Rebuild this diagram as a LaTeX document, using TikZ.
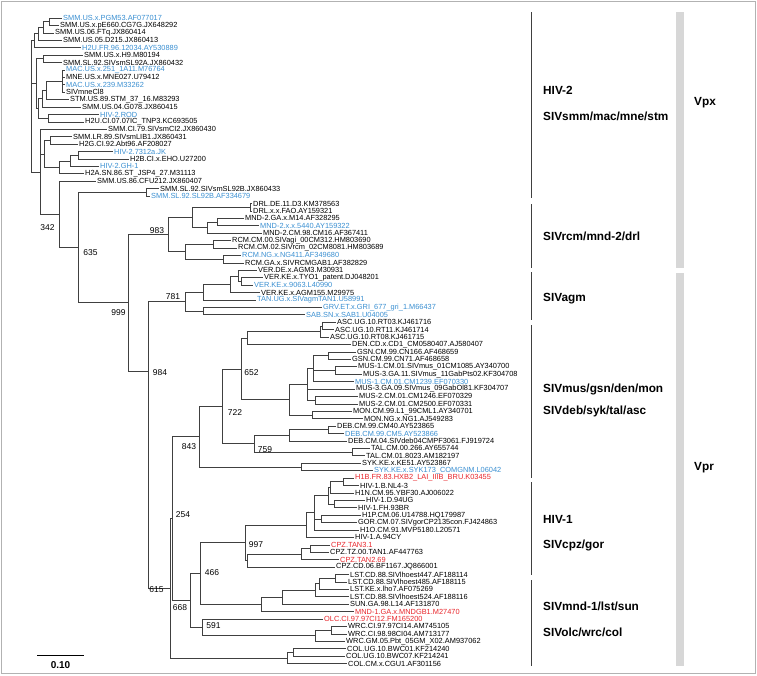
\documentclass[tikz,border=0pt]{standalone}
\usepackage{fontspec}
\setmainfont{Liberation Sans}
\usetikzlibrary{positioning, calc}
\definecolor{accblue}{RGB}{58,143,209}
\definecolor{accred}{RGB}{232,38,43}
\definecolor{bargray}{RGB}{215,215,215}
\tikzset{
  leaf/.style={anchor=west, inner sep=1pt, font=\fontsize{7.4}{8}\selectfont},
  br/.style={line width=0.65pt, black!75},
  boot/.style={font=\fontsize{8.5}{9}\selectfont, inner sep=0pt},
  grp/.style={anchor=west, font=\bfseries\fontsize{11.8}{13}\selectfont, inner sep=0pt},
  sep/.style={line width=0.8pt, black!75},
  gbar/.style={line width=8pt, bargray},
}
\newcommand{\clade}[2]{\foreach \c in {#2} {\draw[br] (#1) |- (\c);}}

\begin{document}
\begin{tikzpicture}[x=1pt,y=-1pt]
\useasboundingbox (0,0) rectangle (757,675);
\draw[gray!60] (1.5,1.5) rectangle (755.5,673.5);

% leaves: index / x / colour / name
\foreach \i/\lx/\lc/\lt in {
 1/62/accblue/SMM.US.x.PGM53.AF077017, 2/59/black/SMM.US.x.pE660.CG7G.JX648292,
 3/54/black/SMM.US.06.FTq.JX860414, 4/62/black/SMM.US.05.D215.JX860413,
 5/81/accblue/H2U.FR.96.12034.AY530889, 6/83/black/SMM.US.x.H9.M80194,
 7/62/black/SMM.SL.92.SIVsmSL92A.JX860432, 8/65/accblue/MAC.US.x.251\_1A11.M76764,
 9/65/black/MNE.US.x.MNE027.U79412, 10/65/accblue/MAC.US.x.239.M33262,
 11/65/black/SIVmneCl8, 12/69/black/STM.US.89.STM\_37\_16.M83293,
 13/81/black/SMM.US.04.G078.JX860415, 14/99/accblue/HIV-2.ROD,
 15/84/black/H2U.CI.07.07IC\_TNP3.KC693505, 16/107/black/SMM.CI.79.SIVsmCI2.JX860430,
 17/72/black/SMM.LR.89.SIVsmLIB1.JX860431, 18/78/black/H2G.CI.92.Abt96.AF208027,
 19/113/accblue/HIV-2.7312a.JK, 20/129/black/H2B.CI.x.EHO.U27200,
 21/99/accblue/HIV-2.GH-1, 22/84/black/H2A.SN.86.ST\_JSP4\_27.M31113,
 23/96/black/SMM.US.86.CFU212.JX860407, 24/159/black/SMM.SL.92.SIVsmSL92B.JX860433,
 25/150/accblue/SMM.SL.92.SL92B.AF334679, 26/252/black/DRL.DE.11.D3.KM378563,
 27/252/black/DRL.x.x.FAO.AY159321, 28/244/black/MND-2.GA.x.M14.AF328295,
 29/259/accblue/MND-2.x.x.5440.AY159322, 30/262/black/MND-2.CM.98.CM16.AF367411,
 31/231/black/RCM.CM.00.SIVagi\_00CM312.HM803690, 32/237/black/RCM.CM.02.SIVrcm\_02CM8081.HM803689,
 33/241/accblue/RCM.NG.x.NG411.AF349680, 34/244/black/RCM.GA.x.SIVRCMGAB1.AF382829,
 35/257/black/VER.DE.x.AGM3.M30931, 36/263/black/VER.KE.x.TYO1\_patent.DJ048201,
 37/253/accblue/VER.KE.x.9063.L40990, 38/260/black/VER.KE.x.AGM155.M29975,
 39/256/accblue/TAN.UG.x.SIVagmTAN1.U58991, 40/322/accblue/GRV.ET.x.GRI\_677\_gri\_1.M66437,
 41/305/accblue/SAB.SN.x.SAB1.U04005, 42/336/black/ASC.UG.10.RT03.KJ461716,
 43/334/black/ASC.UG.10.RT11.KJ461714, 44/329/black/ASC.UG.10.RT08.KJ461715,
 45/351/black/DEN.CD.x.CD1\_CM0580407.AJ580407, 46/356/black/GSN.CM.99.CN166.AF468659,
 47/351/black/GSN.CM.99.CN71.AF468658, 48/357/black/MUS-1.CM.01.SIVmus\_01CM1085.AY340700,
 49/362/black/MUS-3.GA.11.SIVmus\_11GabPts02.KF304708, 50/354/accblue/MUS-1.CM.01.CM1239.EF070330,
 51/355/black/MUS-3.GA.09.SIVmus\_09GabOl81.KF304707, 52/358/black/MUS-2.CM.01.CM1246.EF070329,
 53/358/black/MUS-2.CM.01.CM2500.EF070331, 54/352/black/MON.CM.99.L1\_99CML1.AY340701,
 55/363/black/MON.NG.x.NG1.AJ549283, 56/336/black/DEB.CM.99.CM40.AY523865,
 57/344/accblue/DEB.CM.99.CM5.AY523866, 58/347/black/DEB.CM.04.SIVdeb04CMPF3061.FJ919724,
 59/370/black/TAL.CM.00.266.AY655744, 60/365/black/TAL.CM.01.8023.AM182197,
 61/361/black/SYK.KE.x.KE51.AY523867, 62/373/accblue/SYK.KE.x.SYK173\_COMGNM.L06042,
 63/354/accred/H1B.FR.83.HXB2\_LAI\_IIIB\_BRU.K03455, 64/359/black/HIV-1.B.NL4-3,
 65/354/black/H1N.CM.95.YBF30.AJ006022, 66/365/black/HIV-1.D.94UG,
 67/357/black/HIV-1.FH.93BR, 68/361/black/H1P.CM.06.U14788.HQ179987,
 69/357/black/GOR.CM.07.SIVgorCP2135con.FJ424863, 70/359/black/H1O.CM.91.MVP5180.L20571,
 71/354/black/HIV-1.A.94CY, 72/330/accred/CPZ.TAN3.1,
 73/329/black/CPZ.TZ.00.TAN1.AF447763, 74/339/accred/CPZ.TAN2.69,
 75/335/black/CPZ.CD.06.BF1167.JQ866001, 76/349/black/LST.CD.88.SIVlhoest447.AF188114,
 77/347/black/LST.CD.88.SIVlhoest485.AF188115, 78/349/black/LST.KE.x.lho7.AF075269,
 79/349/black/LST.CD.88.SIVlhoest524.AF188116, 80/349/black/SUN.GA.98.L14.AF131870,
 81/354/accred/MND-1.GA.x.MNDGB1.M27470, 82/323/accred/OLC.CI.97.97CI12.FM165200,
 83/347/black/WRC.CI.97.97CI14.AM745105, 84/347/black/WRC.CI.98.98CI04.AM713177,
 85/345/black/WRC.GM.05.Pbt\_05GM\_X02.AM937062, 86/346/black/COL.UG.10.BWC01.KF214240,
 87/345/black/COL.UG.10.BWC07.KF214241, 88/347/black/COL.CM.x.CGU1.AF301156}
  \node[leaf, text=\lc] (l\i) at (\lx,{18+(\i-1)*7.42}) {\lt};

% inner nodes, Vpx part
\coordinate (a1) at (49,21.71);   \coordinate (a2) at (43,27.28);
\coordinate (a3) at (38,33.77);   \coordinate (a4) at (34,40.72);
\coordinate (a5) at (43,58.81);   \coordinate (a6) at (62,81.07);
\coordinate (a7) at (46,90.35);   \coordinate (a8) at (42,98.70);
\coordinate (a9) at (48,118.17);  \coordinate (a10) at (38,108.43);
\coordinate (a11) at (36,83.62);  \coordinate (b1) at (50,140.43);
\coordinate (b2) at (78,155.27);  \coordinate (b3) at (70,160.84);
\coordinate (b4) at (59,167.33);  \coordinate (b5) at (44,153.88);
\coordinate (b6) at (40,171.9);   \coordinate (root) at (31,106.3);
\coordinate (s24) at (146,192.37);
\coordinate (c342) at (59,214.4); \coordinate (c635) at (78,247.6);
\coordinate (d1) at (250,207.21); \coordinate (d2) at (217,222.05);
\coordinate (d3) at (207,227.62); \coordinate (d4) at (192,217.41);
\coordinate (r1) at (213,244.31); \coordinate (r2) at (223,259.15);
\coordinate (r3) at (185,251.73); \coordinate (c983) at (168,234.57);
\coordinate (c999) at (128,302.8);
% inner nodes, Vpr part
\coordinate (g1) at (241,281.41); \coordinate (g2) at (238,275.85);
\coordinate (g3) at (230,284.19); \coordinate (g4) at (203,292.08);
\coordinate (g5) at (203,311.09); \coordinate (c781) at (185,301.58);
\coordinate (c984) at (148,371);
\coordinate (e1) at (322,325.93); \coordinate (e2) at (320,331.5);
\coordinate (e3) at (247,338);
\coordinate (f1) at (328,355.61); \coordinate (f2) at (335,370.45);
\coordinate (f3) at (313,368.6);  \coordinate (f4) at (315,400.13);
\coordinate (f5) at (312,414.97); \coordinate (f6) at (307,384.4);
\coordinate (f7) at (289,399.7);  \coordinate (c652) at (241,368.9);
\coordinate (h1) at (328,429.81); \coordinate (h2) at (289,435.4);
\coordinate (h3) at (352,452.07); \coordinate (c759) at (254,443.7);
\coordinate (c722) at (222,406.3);\coordinate (h4) at (301,466.91);
\coordinate (c843) at (199,436.6);
\coordinate (i1) at (343,481.75); \coordinate (i2) at (330,487.3);
\coordinate (i3) at (334,504.0);  \coordinate (i4) at (328,495.7);
\coordinate (i5) at (321,518.85); \coordinate (i6) at (314,512.8);
\coordinate (i7) at (306,525.1);
\coordinate (j1) at (310,548.53); \coordinate (j2) at (301,554.1);
\coordinate (j3) at (247,560.6);  \coordinate (c997) at (245,542.8);
\coordinate (k1) at (335,578.21); \coordinate (k2) at (319,583.8);
\coordinate (k3) at (315,590.3);  \coordinate (k4) at (282,597.2);
\coordinate (k5) at (261,604.4);  \coordinate (c466) at (200,573.6);
\coordinate (m1) at (331,630.15); \coordinate (m2) at (315,635.7);
\coordinate (c591) at (202,627.4); \coordinate (c668) at (190,600.5);
\coordinate (n1) at (293,652.41); \coordinate (n2) at (287,657.98);
\coordinate (c254) at (172,518.6); \coordinate (c615) at (170,588.3);

% branches
\clade{a1}{l1.west,l2.west}  \clade{a2}{a1,l3.west}  \clade{a3}{a2,l4.west}
\clade{a4}{a3,l5.west}       \clade{a5}{l6.west,l7.west}
\clade{a6}{l8.west,l9.west,l10.west,l11.west}
\clade{a7}{a6,l12.west}      \clade{a8}{a7,l13.west}
\clade{a9}{l14.west,l15.west} \clade{a10}{a8,a9}   \clade{a11}{a5,a10}
\clade{b1}{l17.west,l18.west} \clade{b2}{l19.west,l20.west}
\clade{b3}{b2,l21.west}      \clade{b4}{b3,l22.west}  \clade{b5}{b1,b4}
\clade{b6}{l16.west,b5,c342} \clade{root}{a4,a11,b6}
\clade{s24}{l24.west,l25.west}
\clade{c342}{l23.west,c635}  \clade{c635}{s24,c999}
\clade{d1}{l26.west,l27.west} \clade{d2}{l28.west,l29.west}
\clade{d3}{d2,l30.west}      \clade{d4}{d1,d3}
\clade{r1}{l31.west,l32.west} \clade{r2}{l33.west,l34.west}
\clade{r3}{r1,r2}            \clade{c983}{d4,r3}
\clade{c999}{c983,c984}
\clade{g1}{l36.west,l37.west} \clade{g2}{l35.west,g1}
\clade{g3}{g2,l38.west}      \clade{g4}{g3,l39.west}
\clade{g5}{l40.west,l41.west} \clade{c781}{g4,g5}
\clade{c984}{c781,c615}
\clade{e1}{l42.west,l43.west} \clade{e2}{e1,l44.west} \clade{e3}{e2,l45.west}
\clade{f1}{l46.west,l47.west} \clade{f2}{l48.west,l49.west}
\clade{f3}{f1,f2,l50.west}   \clade{f4}{l52.west,l53.west}
\clade{f5}{l54.west,l55.west} \clade{f6}{f3,l51.west,f4}
\clade{f7}{f6,f5}            \clade{c652}{e3,f7}
\clade{h1}{l56.west,l57.west} \clade{h2}{h1,l58.west}
\clade{h3}{l59.west,l60.west} \clade{c759}{h2,h3}
\clade{c722}{c652,c759}      \clade{h4}{l61.west,l62.west}
\clade{c843}{c722,h4}
\clade{i1}{l63.west,l64.west} \clade{i2}{i1,l65.west}
\clade{i3}{l66.west,l67.west} \clade{i4}{i2,i3}
\clade{i5}{l68.west,l69.west} \clade{i6}{i4,i5,l70.west}
\clade{i7}{i6,l71.west}
\clade{j1}{l72.west,l73.west} \clade{j2}{j1,l74.west}
\clade{j3}{j2,l75.west}      \clade{c997}{i7,j3}
\clade{k1}{l76.west,l77.west} \clade{k2}{k1,l78.west}
\clade{k3}{k2,l79.west}      \clade{k4}{k3,l80.west}
\clade{k5}{k4,l81.west}      \clade{c466}{c997,k5}
\clade{m1}{l83.west,l84.west} \clade{m2}{m1,l85.west}
\clade{c591}{l82.west,m2}    \clade{c668}{c466,c591}
\clade{n1}{l86.west,l87.west} \clade{n2}{n1,l88.west}
\clade{c254}{c843,c668}      \clade{c615}{c254,n2}

% bootstrap values
\foreach \bx/\by/\bv in {47.5/228/342, 90.5/253/635, 157/231/983, 118.5/313/999,
  173/297/781, 160/373/984, 251.5/373/652, 235/413/722, 189/447/843, 265/450/759,
  183/515/254, 256/545/997, 212/573/466, 156.5/590/615, 180/608/668, 213.5/626/591}
  \node[boot] (bs\bv) at (\bx,\by) {\bv};

% scale bar
\coordinate (sbl) at (37,655);
\coordinate (sbr) at (84,655);
\draw[line width=0.8pt] (sbl) -- (sbr);
\node[font=\bfseries\fontsize{10}{12}\selectfont, below=3pt] (sbt) at ($(sbl)!.5!(sbr)$) {0.10};

% group bars and labels
\foreach \ya/\yb in {12/198, 204/268, 272/320, 325/478, 482/575, 580/666}
  \draw[sep] (531,\ya) -- (531,\yb);
\node[grp] (tHIV2) at (543,90) {HIV-2};
\node[grp] (tSMM) at (543,116) {SIVsmm/mac/mne/stm};
\node[grp] (tRCM) at (543,236) {SIVrcm/mnd-2/drl};
\node[grp] (tAGM) at (543,299) {SIVagm};
\node[grp] (tMUS) at (543,389) {SIVmus/gsn/den/mon};
\node[grp] (tDEB) at (543,411) {SIVdeb/syk/tal/asc};
\node[grp] (tHIV1) at (543,519) {HIV-1};
\node[grp] (tCPZ) at (543,545) {SIVcpz/gor};
\node[grp] (tMND) at (543,606) {SIVmnd-1/lst/sun};
\node[grp] (tOLC) at (543,632) {SIVolc/wrc/col};
\draw[gbar] (680,12) -- (680,268);
\draw[gbar] (680,273) -- (680,666);
\node[grp] (vpx) at (694,103) {Vpx};
\node[grp] (vpr) at (694,468) {Vpr};
\end{tikzpicture}
\end{document}
